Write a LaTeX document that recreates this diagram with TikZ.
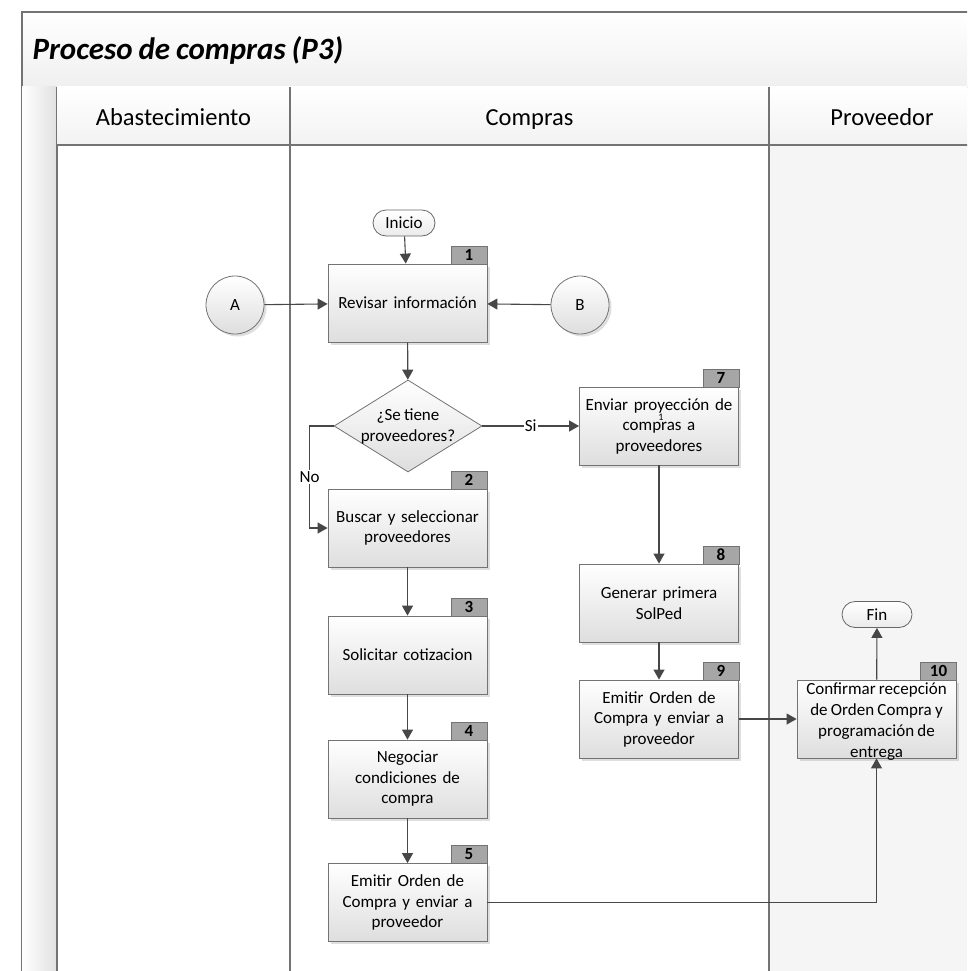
\documentclass[tikz,border=0pt]{standalone}
\usepackage{fontspec}
\setmainfont{Carlito}[WordSpace=0.85]
\usetikzlibrary{shapes.geometric,arrows.meta,shadows}

\tikzset{
  lane/.style={draw=black!55, line width=1.3pt},
  boxfont/.style={font=\fontsize{17}{20.5}\selectfont},
  procbox/.style={rectangle, draw=black!55, line width=0.8pt, top color=white, bottom color=black!13,
    minimum width=159pt, minimum height=78pt, text width=155pt, align=center, inner sep=1pt,
    boxfont,
    drop shadow={opacity=0.25, shadow xshift=2.5pt, shadow yshift=-2.5pt}},
  numtab/.style={rectangle, draw=black!55, line width=0.8pt, fill=black!35, minimum width=36pt,
    minimum height=18pt, inner sep=0pt, font=\fontsize{17}{17}\selectfont\bfseries},
  terminal/.style={rectangle, rounded corners=13pt, draw=black!60, line width=0.8pt,
    top color=white, bottom color=black!8, minimum height=26pt, inner sep=0pt,
    font=\fontsize{17}{19}\selectfont},
  connector/.style={circle, draw=black!55, line width=0.8pt, top color=white, bottom color=black!13,
    minimum size=58pt, inner sep=0pt, font=\fontsize{17}{19}\selectfont,
    drop shadow={opacity=0.25, shadow xshift=2.5pt, shadow yshift=-2.5pt}},
  decision/.style={diamond, aspect=1.6, draw=black!55, line width=0.8pt, top color=white, bottom color=black!13,
    minimum width=148pt, minimum height=92pt, inner sep=0pt},
  plaintext/.style={align=center, inner sep=0pt, font=\fontsize{17}{21}\selectfont},
  flow/.style={draw=black!72, line width=1.1pt, -{Triangle[width=11pt,length=10pt]}},
  edgelabel/.style={fill=white, inner sep=1pt, font=\fontsize{17}{19}\selectfont},
  lanehead/.style={anchor=base, font=\fontsize{24.5}{28}\selectfont}
}

\begin{document}
\begin{tikzpicture}[x=1pt,y=-1pt]
\useasboundingbox (0,0) rectangle (967,971);
\begin{scope}
\clip (0,0) rectangle (967,971);

% pool frame and title band
\shade[top color=white, bottom color=black!6] (22,12) rectangle (990,87);
\draw[lane] (22,990) -- (22,12) -- (990,12);
\draw[lane] (22,87) -- (990,87);
\node[anchor=west, font=\fontsize{31}{34}\selectfont\bfseries\itshape] (title) at (29,50) {Proceso de compras (P3)};

% left strip of the pool
\shade[left color=white, right color=black!12] (22,87) rectangle (57,990);
\draw[lane] (57,87) -- (57,990);

% lane backgrounds
\fill[black!4] (769,145) rectangle (990,990);

% header row
\shade[top color=white, bottom color=black!5] (57,87) rectangle (990,145);
\draw[lane] (57,145) -- (990,145);
\draw[lane] (290,87) -- (290,990);
\draw[lane] (769,87) -- (769,990);
\node[lanehead] (h1) at (173.5,125) {Abastecimiento};
\node[lanehead] (h2) at (529.5,125) {Compras};
\node[lanehead] (h3) at (882,125) {Proveedor};
\end{scope}

% terminals and connectors
\node[terminal, minimum width=62pt] (inicio) at (404,223) {Inicio};
\node[terminal, minimum width=70pt] (fin) at (877,614.5) {Fin};
\node[connector] (A) at (235,305) {A};
\node[connector] (B) at (580,305) {B};

% process steps
\node[procbox] (b1) at (407.5,303) {Revisar información};
\node[numtab] (t1) at (469,255) {1};
\node[decision] (dec) at (408,426) {};
\node[plaintext] (dectext) at (408,426) {¿Se tiene\\proveedores?};
\node[procbox] (b2) at (407.5,528) {Buscar y seleccionar\\proveedores};
\node[numtab] (t2) at (469,480) {2};
\node[procbox] (b3) at (407.5,655) {Solicitar cotizacion};
\node[numtab] (t3) at (469,607) {3};
\node[procbox] (b4) at (407.5,779) {Negociar\\condiciones de\\compra};
\node[numtab] (t4) at (469,731) {4};
\node[procbox] (b5) at (407.5,902.5) {Emitir Orden de\\Compra y enviar a\\proveedor};
\node[numtab] (t5) at (469,854) {5};
\node[procbox] (b7) at (659,426) {Enviar proyección de\\compras a\\proveedores};
\node[numtab] (t7) at (721,378) {7};
\node[font=\fontsize{10}{10}\selectfont, inner sep=0pt] (stray) at (661,417) {1};
\node[procbox] (b8) at (659,603) {Generar primera\\SolPed};
\node[numtab] (t8) at (721,555) {8};
\node[procbox] (b9) at (659,719) {Emitir Orden de\\Compra y enviar a\\proveedor};
\node[numtab] (t9) at (721,671) {9};
\node[procbox] (b10) at (876.5,719) {};
\node[plaintext] (b10text) at (876.5,722) {Confirmar recepción\\de Orden Compra y\\programación de\\entrega};
\node[numtab] (t10) at (938.5,671) {10};

% flow
\draw[flow] (inicio) -- (b1);
\draw[flow] (A) -- (b1);
\draw[flow] (B) -- (b1);
\draw[flow] (b1) -- (dec);
\draw[flow] (dec.east) -- node[edgelabel, pos=0.5] {Si} (b7.west);
\draw[flow] (dec.west) -- ++(-24,0) coordinate (nobend) |- node[edgelabel, pos=0.25] {No} (b2.west);
\draw[flow] (b2) -- (b3);
\draw[flow] (b3) -- (b4);
\draw[flow] (b4) -- (b5);
\draw[flow] (b7) -- (b8);
\draw[flow] (b8) -- (b9);
\draw[flow] (b9) -- (b10);
\draw[flow] (b10) -- (fin);
\draw[flow] (b5.east) -| (b10.south);
\end{tikzpicture}
\end{document}
